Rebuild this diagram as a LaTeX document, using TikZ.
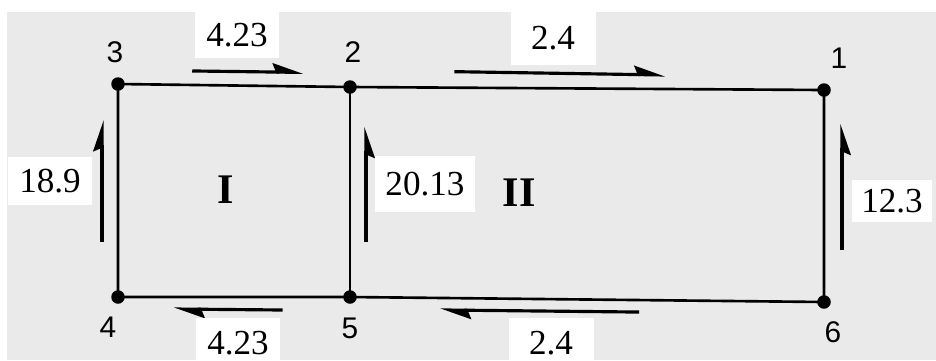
\documentclass[tikz,border=0pt]{standalone}
\usepackage{fontspec}
\setmainfont{Liberation Serif}
\setsansfont{Liberation Sans}
\usetikzlibrary{positioning,arrows.meta,calc}
\definecolor{paper}{HTML}{EAEAEA}

\begin{document}
\begin{tikzpicture}[x=0.02cm,y=-0.02cm,
  pt/.style={circle,fill=black,inner sep=0pt,minimum size=0.27cm},
  lab/.style={font=\sffamily\fontsize{17}{19}\selectfont},
  val/.style={fill=white,inner sep=0pt,minimum width=1.7cm,minimum height=0.92cm,font=\fontsize{20}{22}\selectfont},
  loop/.style={font=\bfseries\fontsize{24}{26}\selectfont},
  fl/.style={line width=1.8pt,-{Stealth[left,length=15pt,width=10pt,inset=2pt]}},
  fr/.style={line width=1.8pt,-{Stealth[right,length=15pt,width=10pt,inset=2pt]}}]
\fill[white] (0,0) rectangle (936,360);
\fill[paper] (7,12) rectangle (936,360);
\useasboundingbox (0,0) rectangle (936,360);
% junctions
\node[pt] (n1) at (824,90) {};
\node[pt] (n2) at (350,87) {};
\node[pt] (n3) at (118,84) {};
\node[pt] (n4) at (118,297) {};
\node[pt] (n5) at (350,297) {};
\node[pt] (n6) at (824,302) {};
\draw[line width=1.5pt] (n3.center) -- (n2.center) -- (n1.center) -- (n6.center) -- (n5.center) -- (n4.center) -- cycle;
\draw[line width=1.5pt] (n2.center) -- (n5.center);
\foreach \n/\dx/\dy in {1/15/-32,2/3/-35,3/-3/-32,4/-10/30,5/0/31,6/9/30}{
  \node[lab] (l\n) at ($(n\n)+(\dx,\dy)$) {\n};}
% flows
\draw[fl] ($(n3)!0.32!(n2)+(0,-14)$) -- ($(n3)!0.8!(n2)+(0,-14)$);
\draw[fl] ($(n2)!0.22!(n1)+(0,-16)$) -- ($(n2)!0.665!(n1)+(0,-14)$);
\draw[fl] ($(n4)!0.26!(n3)+(-16,0)$) -- ($(n4)!0.83!(n3)+(-16,0)$);
\draw[fr] ($(n5)!0.26!(n2)+(16,0)$) -- ($(n5)!0.81!(n2)+(16,0)$);
\draw[fr] ($(n6)!0.245!(n1)+(18,0)$) -- ($(n6)!0.84!(n1)+(18,0)$);
\draw[fl] ($(n5)!0.29!(n4)+(0,13)$) -- ($(n5)!0.76!(n4)+(0,12)$);
\draw[fl] ($(n6)!0.39!(n5)+(0,12)$) -- ($(n6)!0.81!(n5)+(0,12)$);
\node[val] (v32) at (237,35) {4.23};
\node[val,minimum height=1.06cm] (v21) at (553,38) {2.4};
\node[val,minimum height=0.96cm] (v43) at (50,181) {18.9};
\node[val,minimum width=2.0cm,minimum height=1.12cm] (v52) at (425,184) {20.13};
\node[val,minimum width=1.6cm,minimum height=0.84cm] (v16) at (892,201) {12.3};
\node[val,minimum height=1.0cm] (v54) at (238,343) {4.23};
\node[val,minimum height=1.0cm] (v65) at (551,343) {2.4};
\node[loop] (r1) at (226,190) {I};
\node[loop] (r2) at (519,193) {II};
\end{tikzpicture}
\end{document}
